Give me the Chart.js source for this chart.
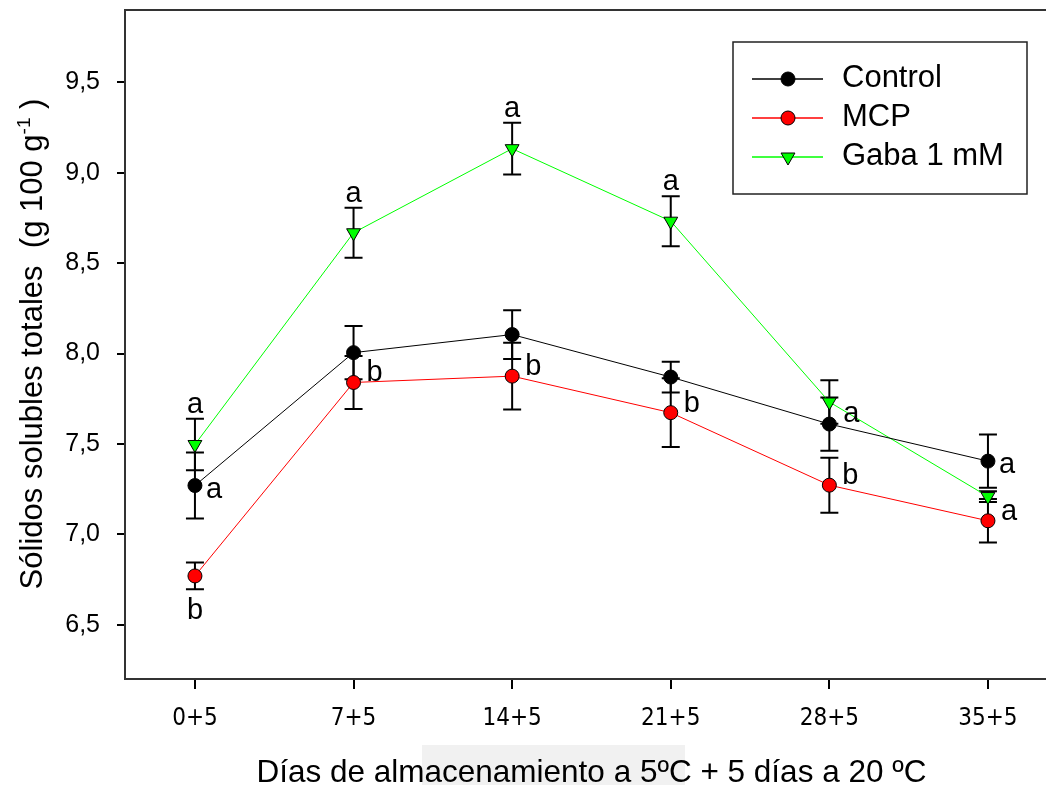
<!DOCTYPE html>
<html><head><meta charset="utf-8">
<script src="https://cdn.jsdelivr.net/npm/chart.js@4/dist/chart.umd.min.js"></script>
<style>html,body{margin:0;padding:0;background:#fff}#wrap{width:1046px;height:785px;position:relative}</style>
</head><body><div id="wrap"><canvas id="c" width="1046" height="785"></canvas></div>
<script>
// ---- data ----
const categories = ['0+5', '7+5', '14+5', '21+5', '28+5', '35+5'];
const yTicks = [6.5, 7.0, 7.5, 8.0, 8.5, 9.0, 9.5];
const seriesNames = ['Control', 'MCP', 'Gaba 1 mM'];
const controlMean = [7.27, 8.005, 8.105, 7.87, 7.61, 7.405];
const controlErr  = [0.182, 0.147, 0.135, 0.085, 0.147, 0.147];
const mcpMean     = [6.77, 7.84, 7.875, 7.673, 7.272, 7.075];
const mcpErr      = [0.074, 0.147, 0.184, 0.19, 0.152, 0.12];
const gabaMean    = [7.497, 8.668, 9.133, 8.732, 7.732, 7.209];
const gabaErr     = [0.143, 0.138, 0.143, 0.138, 0.12, 0.03];
// significance letters: series index, category index, text, placement
const letterSeries = [2, 0, 1, 2, 1, 2, 1, 2, 1, 2, 1, 0, 1];
const letterCat    = [0, 0, 0, 1, 1, 2, 2, 3, 3, 4, 4, 5, 5];
const letterText   = ['a','a','b','a','b','a','b','a','b','a','b','a','a'];
const letterPlace  = ['n','e','s','n','ne','n','ne','n','ne','se','ne','e','ne'];
const xTitle = 'Días de almacenamiento a 5ºC + 5 días a 20 ºC';
const yTitleMain = 'Sólidos solubles totales  (g 100 g';
const yTitleSup = '-1';
const yTitleTail = ' )';

// ---- styling ----
const FONT = "'Liberation Sans', Arial, sans-serif";
const NARROW = "'Liberation Sans Narrow', 'Arial Narrow', 'DejaVu Sans Condensed', 'Liberation Sans', sans-serif";
const colors = ['#000000', '#ff0000', '#00ff00'];
const means = [controlMean, mcpMean, gabaMean];
const errs = [controlErr, mcpErr, gabaErr];

const datasets = seriesNames.map((name, s) => ({
  label: name,
  data: means[s].map((v, i) => ({x: i, y: v})),
  errors: errs[s],
  borderColor: colors[s],
  borderWidth: 1,
  backgroundColor: colors[s],
  pointBackgroundColor: colors[s],
  pointBorderColor: '#000',
  pointBorderWidth: 1,
  pointStyle: s === 2 ? 'triangle' : 'circle',
  rotation: s === 2 ? 180 : 0,
  pointRadius: s === 2 ? 8 : 7,
  tension: 0,
  fill: false
}));

function drawMarker(ctx, s, x, y) {
  ctx.save();
  ctx.fillStyle = colors[s];
  ctx.strokeStyle = '#000';
  ctx.lineWidth = 1;
  ctx.beginPath();
  if (s === 2) {
    const r = 8;
    ctx.moveTo(x, y + r);
    ctx.lineTo(x - r * Math.sin(Math.PI / 3), y - r / 2);
    ctx.lineTo(x + r * Math.sin(Math.PI / 3), y - r / 2);
    ctx.closePath();
  } else {
    ctx.arc(x, y, 7, 0, Math.PI * 2);
  }
  ctx.fill();
  ctx.stroke();
  ctx.restore();
}

const errorBars = {
  id: 'errorBars',
  beforeDatasetsDraw(chart) {
    const ctx = chart.ctx, ys = chart.scales.y;
    ctx.save();
    ctx.strokeStyle = '#000';
    ctx.lineWidth = 2;
    chart.data.datasets.forEach((ds, s) => {
      const meta = chart.getDatasetMeta(s);
      meta.data.forEach((pt, i) => {
        const m = ds.data[i].y, e = ds.errors[i];
        const x = pt.x;
        const yt = ys.getPixelForValue(m + e), yb = ys.getPixelForValue(m - e);
        ctx.beginPath();
        ctx.moveTo(x, yt); ctx.lineTo(x, yb);
        ctx.moveTo(x - 9, yt); ctx.lineTo(x + 9, yt);
        ctx.moveTo(x - 9, yb); ctx.lineTo(x + 9, yb);
        ctx.stroke();
      });
    });
    ctx.restore();
  }
};

const decorations = {
  id: 'decorations',
  beforeDraw(chart) {
    const ctx = chart.ctx;
    ctx.save();
    ctx.fillStyle = '#fff';
    ctx.fillRect(0, 0, chart.width, chart.height);
    // faint selection highlight behind part of the x title
    ctx.fillStyle = '#f1f1f1';
    ctx.fillRect(422, 745, 263, 40);
    ctx.restore();
  },
  afterDatasetsDraw(chart) {
    const ctx = chart.ctx, xs = chart.scales.x, ys = chart.scales.y, a = chart.chartArea;
    // top frame line
    ctx.save();
    ctx.strokeStyle = '#333';
    ctx.lineWidth = 2;
    ctx.beginPath();
    ctx.moveTo(a.left - 1, a.top); ctx.lineTo(a.right, a.top);
    ctx.stroke();
    ctx.restore();

    // significance letters
    ctx.save();
    ctx.font = '29px ' + FONT;
    ctx.fillStyle = '#000';
    ctx.textBaseline = 'alphabetic';
    letterText.forEach((t, k) => {
      const s = letterSeries[k], i = letterCat[k];
      const m = means[s][i], e = errs[s][i];
      const px = xs.getPixelForValue(i);
      const py = ys.getPixelForValue(m);
      const place = letterPlace[k];
      if (place === 'n') {
        ctx.textAlign = 'center';
        ctx.fillText(t, px, ys.getPixelForValue(m + e) - 6);
      } else if (place === 's') {
        ctx.textAlign = 'center';
        ctx.fillText(t, px, ys.getPixelForValue(m - e) + 30);
      } else if (place === 'e') {
        ctx.textAlign = 'left';
        ctx.fillText(t, px + 11, py + 12);
      } else if (place === 'ne') {
        ctx.textAlign = 'left';
        ctx.fillText(t, px + 13, py - 1);
      } else if (place === 'se') {
        ctx.textAlign = 'left';
        ctx.fillText(t, px + 14, py + 20);
      }
    });
    ctx.restore();

    // legend
    ctx.save();
    ctx.fillStyle = '#fff';
    ctx.strokeStyle = '#222';
    ctx.lineWidth = 1.5;
    ctx.fillRect(733, 42, 294, 152);
    ctx.strokeRect(733, 42, 294, 152);
    const rows = [79, 118, 157];
    ctx.font = '31px ' + FONT;
    ctx.textAlign = 'left';
    ctx.textBaseline = 'alphabetic';
    seriesNames.forEach((n, s) => {
      const y = rows[s];
      ctx.strokeStyle = colors[s];
      ctx.lineWidth = 1.5;
      ctx.beginPath();
      ctx.moveTo(752, y); ctx.lineTo(823, y);
      ctx.stroke();
      drawMarker(ctx, s, 788, y);
      ctx.fillStyle = '#000';
      ctx.fillText(n, 842, y + 8);
    });
    ctx.restore();

    // y title with superscript
    ctx.save();
    ctx.fillStyle = '#000';
    ctx.translate(42, 344);
    ctx.rotate(-Math.PI / 2);
    ctx.textBaseline = 'alphabetic';
    ctx.textAlign = 'left';
    const fMain = '31px ' + FONT, fSup = '19px ' + FONT;
    ctx.font = fMain;
    const w1 = ctx.measureText(yTitleMain).width;
    const w3 = ctx.measureText(yTitleTail).width;
    ctx.font = fSup;
    const w2 = ctx.measureText(yTitleSup).width;
    let x0 = -(w1 + w2 + w3) / 2;
    ctx.font = fMain;
    ctx.fillText(yTitleMain, x0, 0);
    ctx.font = fSup;
    ctx.fillText(yTitleSup, x0 + w1, -12);
    ctx.font = fMain;
    ctx.fillText(yTitleTail, x0 + w1 + w2, 0);
    ctx.restore();

    // x title
    ctx.save();
    ctx.fillStyle = '#000';
    ctx.font = '31.5px ' + FONT;
    ctx.textAlign = 'center';
    ctx.textBaseline = 'alphabetic';
    ctx.fillText(xTitle, (xs.getPixelForValue(0) + xs.getPixelForValue(5)) / 2, 782);
    ctx.restore();
  }
};

new Chart(document.getElementById('c'), {
  type: 'line',
  data: {datasets},
  options: {
    responsive: false,
    animation: false,
    devicePixelRatio: 1,
    layout: {autoPadding: false, padding: {top: 10, right: 0, left: 0, bottom: 0}},
    plugins: {legend: {display: false}, tooltip: {enabled: false}},
    scales: {
      x: {
        type: 'linear',
        min: -0.441, max: 5.366,
        afterBuildTicks: sc => { sc.ticks = categories.map((c, i) => ({value: i})); },
        afterFit: sc => { sc.height = 106; sc.paddingLeft = 0; sc.paddingRight = 0; },
        ticks: {
          callback: v => categories[v],
          autoSkip: false, maxRotation: 0,
          font: {family: NARROW, size: 24},
          color: '#000',
          padding: 15
        },
        grid: {display: true, drawOnChartArea: false, drawTicks: true, tickLength: 10, color: '#000', lineWidth: 2},
        border: {display: true, color: '#333', width: 2}
      },
      y: {
        type: 'linear',
        min: 6.2, max: 9.9,
        afterBuildTicks: sc => { sc.ticks = yTicks.map(v => ({value: v})); },
        afterFit: sc => { sc.width = 125; sc.paddingTop = 0; sc.paddingBottom = 0; },
        ticks: {
          callback: v => v.toFixed(1).replace('.', ','),
          font: {family: FONT, size: 25},
          color: '#000',
          padding: 17
        },
        grid: {display: true, drawOnChartArea: false, drawTicks: true, tickLength: 8, color: '#000', lineWidth: 2},
        border: {display: true, color: '#333', width: 2}
      }
    }
  },
  plugins: [errorBars, decorations]
});
</script>
</body></html>
